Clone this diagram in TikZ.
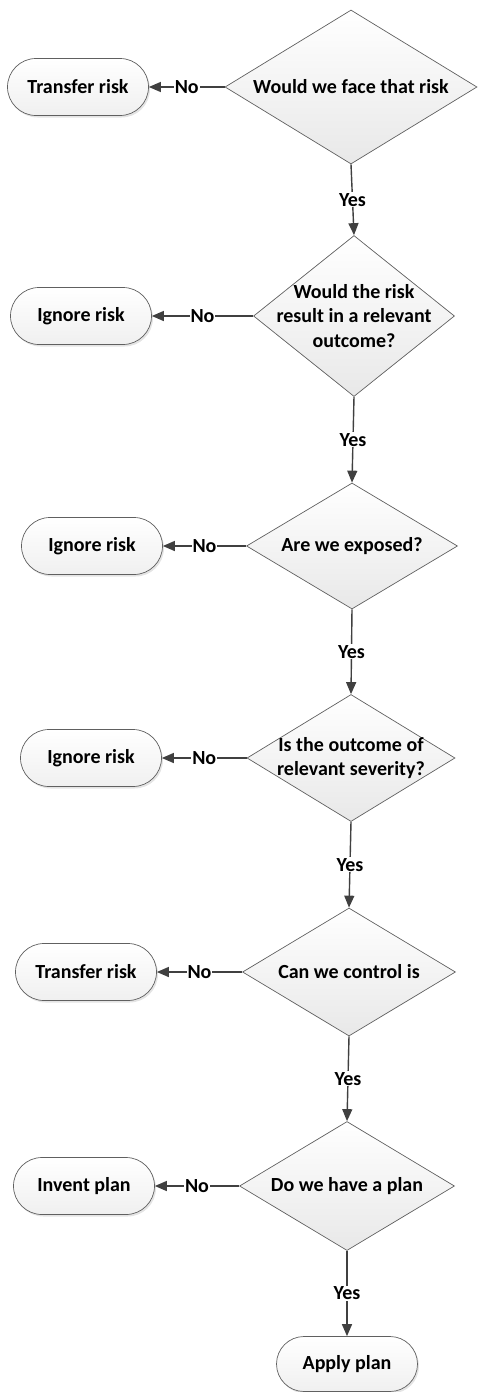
\documentclass[tikz,border=0pt]{standalone}
\usepackage{fontspec}
\setmainfont{Carlito}
\usetikzlibrary{shapes.geometric,shapes.misc,arrows.meta,shadows}
\definecolor{linegray}{HTML}{404040}
\definecolor{edgegray}{HTML}{606060}

\begin{document}
\begin{tikzpicture}[x=1pt,y=-1pt,
  font=\fontsize{20}{24.5}\selectfont\bfseries,
  decision/.style={diamond, draw=edgegray, line width=0.7pt, inner sep=0pt,
    top color=white, bottom color=gray!18},
  qtext/.style={align=center, inner sep=0pt},
  terminal/.style={rounded rectangle, draw=edgegray, line width=0.7pt,
    minimum width=141pt, minimum height=57pt, inner sep=0pt,
    top color=white, bottom color=gray!12,
    drop shadow={shadow xshift=1.5pt, shadow yshift=-2pt, fill=gray!35, opacity=0.6}},
  link/.style={draw=linegray, line width=1.4pt, -{Triangle[length=12pt,width=10pt]}},
  lbl/.style={fill=white, inner sep=1pt}]
\useasboundingbox (0,0) rectangle (478,1392);

\node[decision, minimum width=252pt, minimum height=154pt,
  label={[qtext]center:Would we face that risk}] (q1) at (351,87) {};
\node[decision, minimum width=201pt, minimum height=161pt,
  label={[qtext]center:Would the risk\\result in a relevant\\outcome?}] (q2) at (354,316) {};
\node[decision, minimum width=211pt, minimum height=126pt,
  label={[qtext]center:Are we exposed?}] (q3) at (352,546) {};
\node[decision, minimum width=208pt, minimum height=127pt,
  label={[qtext]center:Is the outcome of\\relevant severity?}] (q4) at (351,758) {};
\node[decision, minimum width=213pt, minimum height=128pt,
  label={[qtext]center:Can we control is}] (q5) at (349,972) {};
\node[decision, minimum width=215pt, minimum height=129pt,
  label={[qtext]center:Do we have a plan}] (q6) at (347,1186) {};

\node[terminal] (t1) at (78,87) {Transfer risk};
\node[terminal] (t2) at (81,316) {Ignore risk};
\node[terminal] (t3) at (92,546) {Ignore risk};
\node[terminal] (t4) at (91,758) {Ignore risk};
\node[terminal] (t5) at (86,972) {Transfer risk};
\node[terminal] (t6) at (84,1186) {Invent plan};
\node[terminal, minimum height=55pt] (t7) at (347,1364) {Apply plan};

\draw[link] (q1.west) -- node[lbl]{No} (t1.east);
\draw[link] (q2.west) -- node[lbl]{No} (t2.east);
\draw[link] (q3.west) -- node[lbl]{No} (t3.east);
\draw[link] (q4.west) -- node[lbl]{No} (t4.east);
\draw[link] (q5.west) -- node[lbl]{No} (t5.east);
\draw[link] (q6.west) -- node[lbl]{No} (t6.east);

\draw[link] (q1.south) -- node[lbl]{Yes} (q2.north);
\draw[link] (q2.south) -- node[lbl]{Yes} (q3.north);
\draw[link] (q3.south) -- node[lbl]{Yes} (q4.north);
\draw[link] (q4.south) -- node[lbl]{Yes} (q5.north);
\draw[link] (q5.south) -- node[lbl]{Yes} (q6.north);
\draw[link] (q6.south) -- node[lbl]{Yes} (t7.north);

\end{tikzpicture}
\end{document}
